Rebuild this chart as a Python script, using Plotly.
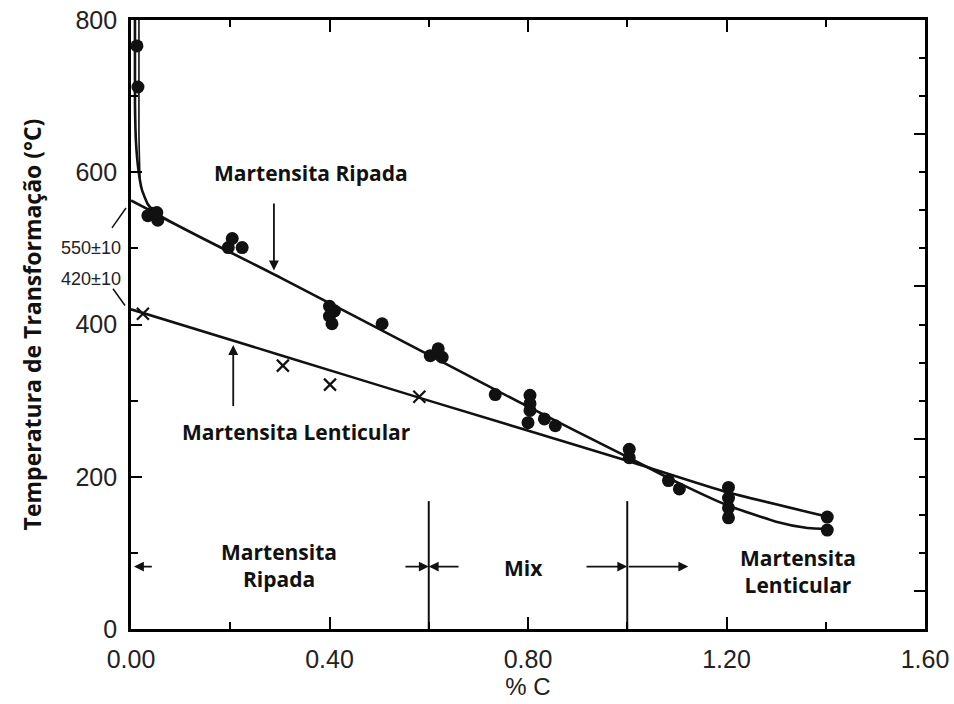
import plotly.graph_objects as go

# ---- data: martensite start temperature vs carbon content ----
# lath martensite measurements (filled circles)
lath_c = [0.012, 0.014, 0.034, 0.042, 0.052, 0.054,
          0.196, 0.204, 0.224,
          0.400, 0.410, 0.400, 0.405, 0.506,
          0.603, 0.619, 0.627, 0.734,
          0.804, 0.804, 0.804, 0.800, 0.833, 0.855,
          1.004, 1.004, 1.083, 1.105,
          1.204, 1.204, 1.204, 1.204, 1.403, 1.403]
lath_t = [766, 712, 543, 546, 547, 537,
          501, 513, 501,
          424, 418, 411, 401, 401,
          359, 368, 357, 308,
          307, 296, 287, 271, 276, 267,
          236, 225, 195, 184,
          186, 172, 159, 146, 147, 130]

# lenticular martensite measurements (crosses)
lent_c = [0.024, 0.306, 0.401, 0.581]
lent_t = [414, 346, 321, 305]

# trend curves (knots)
lath_curve_c = [0.008, 0.008, 0.010, 0.015, 0.022, 0.034, 0.05, 0.30, 0.60, 0.80, 1.00, 1.10, 1.20, 1.30, 1.36, 1.41]
lath_curve_t = [800, 690, 640, 603, 577, 558, 546, 462, 360, 292, 226, 193, 163, 141, 133, 131]
lath_edge_c = [0.016, 0.016, 0.018]
lath_edge_t = [800, 650, 592]
lath_extrap_c = [0.0, 0.05]
lath_extrap_t = [563, 546]
lent_curve_c = [0.0, 0.30, 0.60, 1.00, 1.20, 1.40]
lent_curve_t = [420, 360, 300, 221, 180, 148]

# region boundaries (% C)
boundaries = [0.6, 1.0]
boundary_top = 168
region_arrow_t = 82

x_ticks = [0.0, 0.4, 0.8, 1.2, 1.6]
x_tick_text = ["0.00", "0.40", "0.80", "1.20", "1.60"]
y_ticks = [0, 200, 400, 600, 800]

X_RANGE = [0, 1.6]
Y_RANGE = [0, 800]

INK = "#111111"
LBL = dict(family="Open Sans", size=21, color=INK, weight="bold")
TICKF = dict(family="Liberation Sans", size=25, color="#222222")

fig = go.Figure()

line_style = dict(color=INK, width=2.6)
fig.add_trace(go.Scatter(x=lath_curve_c, y=lath_curve_t, mode="lines",
                         line=dict(shape="spline", smoothing=0.5, **line_style),
                         showlegend=False, hoverinfo="skip"))
fig.add_trace(go.Scatter(x=lath_edge_c, y=lath_edge_t, mode="lines",
                         line=dict(shape="spline", smoothing=0.5, color=INK, width=1.6),
                         showlegend=False, hoverinfo="skip"))
fig.add_trace(go.Scatter(x=lath_extrap_c, y=lath_extrap_t, mode="lines",
                         line=line_style, showlegend=False, hoverinfo="skip"))
fig.add_trace(go.Scatter(x=lent_curve_c, y=lent_curve_t, mode="lines",
                         line=dict(shape="spline", smoothing=0.4, **line_style),
                         showlegend=False, hoverinfo="skip"))

fig.add_trace(go.Scatter(x=lath_c, y=lath_t, mode="markers",
                         marker=dict(symbol="circle", size=13, color=INK),
                         showlegend=False))
fig.add_trace(go.Scatter(x=lent_c, y=lent_t, mode="markers",
                         marker=dict(symbol="x-thin-open", size=12, color=INK,
                                     line=dict(color=INK, width=2.2)),
                         showlegend=False))

# vertical region boundaries
for b in boundaries:
    fig.add_trace(go.Scatter(x=[b, b], y=[0, boundary_top], mode="lines",
                             line=dict(color=INK, width=2), showlegend=False,
                             hoverinfo="skip"))

# invisible trace to carry the right-hand tick axis
fig.add_trace(go.Scatter(x=[0], y=[0], yaxis="y2", mode="markers",
                         marker=dict(opacity=0), showlegend=False, hoverinfo="skip"))


def arrow(x_tip, y_tip, x_tail, y_tail):
    fig.add_annotation(x=x_tip, y=y_tip, ax=x_tail, ay=y_tail,
                       xref="x", yref="y", axref="x", ayref="y",
                       text="", showarrow=True, arrowhead=2, arrowsize=1.1,
                       arrowwidth=1.8, arrowcolor=INK, standoff=0, startstandoff=0)


# pointer arrows to the curves
arrow(0.288, 471, 0.288, 561)
arrow(0.206, 373, 0.206, 291)

# region arrows along the bottom
arrow(0.006, region_arrow_t, 0.045, region_arrow_t)
arrow(boundaries[0], region_arrow_t, 0.55, region_arrow_t)
arrow(boundaries[0], region_arrow_t, 0.663, region_arrow_t)
arrow(boundaries[1], region_arrow_t, 0.915, region_arrow_t)
arrow(1.123, region_arrow_t, boundaries[1], region_arrow_t)


def label(x, y, text):
    fig.add_annotation(x=x, y=y, xref="x", yref="y", text=text, showarrow=False,
                       font=LBL, align="center", xanchor="center", yanchor="middle")


label(0.363, 599, "Martensita Ripada")
label(0.333, 259, "Martensita Lenticular")
label(0.298, 84, "Martensita<br>Ripada")
label(0.79, 80, "Mix")
label(1.345, 75, "Martensita<br>Lenticular")

# side notes for the extrapolated intercepts
PLOT_W = 794.0


def px_to_paper_x(px):
    return px / PLOT_W


for txt, yv in [("550±10", 500), ("420±10", 460)]:
    fig.add_annotation(x=px_to_paper_x(-8), y=yv, xref="paper", yref="y",
                       text=txt, showarrow=False, xanchor="right", yanchor="middle",
                       font=dict(family="Liberation Sans", size=18, color="#222222"))

leaders = [((-19, 527), (-5, 553)), ((-18, 447), (-6, 425))]
for (x0, y0), (x1, y1) in leaders:
    fig.add_shape(type="line", xref="paper", yref="paper",
                  x0=px_to_paper_x(x0), y0=y0 / Y_RANGE[1],
                  x1=px_to_paper_x(x1), y1=y1 / Y_RANGE[1],
                  line=dict(color=INK, width=1.5))

axis_common = dict(showline=True, linecolor="black", linewidth=2.6, showgrid=False,
                   zeroline=False, ticks="inside", tickcolor="black", tickwidth=2,
                   tickfont=TICKF, automargin=False)

fig.update_layout(
    width=954, height=704,
    margin=dict(l=131, r=29, t=20, b=75, autoexpand=False),
    paper_bgcolor="white", plot_bgcolor="white",
    xaxis=dict(range=X_RANGE, tickvals=x_ticks, ticktext=x_tick_text,
               mirror="ticks", ticklen=12, ticklabelstandoff=6,
               minor=dict(dtick=0.2, tick0=0, ticks="inside", ticklen=7,
                          tickwidth=2, tickcolor="black", showgrid=False),
               title=dict(text="% C", font=dict(family="Liberation Sans", size=24,
                                                  color="#222222"), standoff=6),
               **axis_common),
    yaxis=dict(range=Y_RANGE, tickvals=y_ticks, mirror=True, ticklen=11,
               ticklabelstandoff=6,
               minor=dict(dtick=100, tick0=0, ticks="inside", ticklen=7,
                          tickwidth=2, tickcolor="black", showgrid=False),
               title=dict(text="Temperatura de Transformação (°C)",
                          font=dict(family="Open Sans", size=23, color=INK,
                                    weight="bold"), standoff=28),
               **axis_common),
    yaxis2=dict(range=Y_RANGE, overlaying="y", side="right", showline=False,
                showgrid=False, zeroline=False, showticklabels=False,
                automargin=False,
                ticks="inside", tick0=50, dtick=200, ticklen=11, tickwidth=2,
                tickcolor="black",
                minor=dict(dtick=50, tick0=0, ticks="inside", ticklen=6,
                           tickwidth=2, tickcolor="black", showgrid=False)),
)

fig.write_html("out.html")
